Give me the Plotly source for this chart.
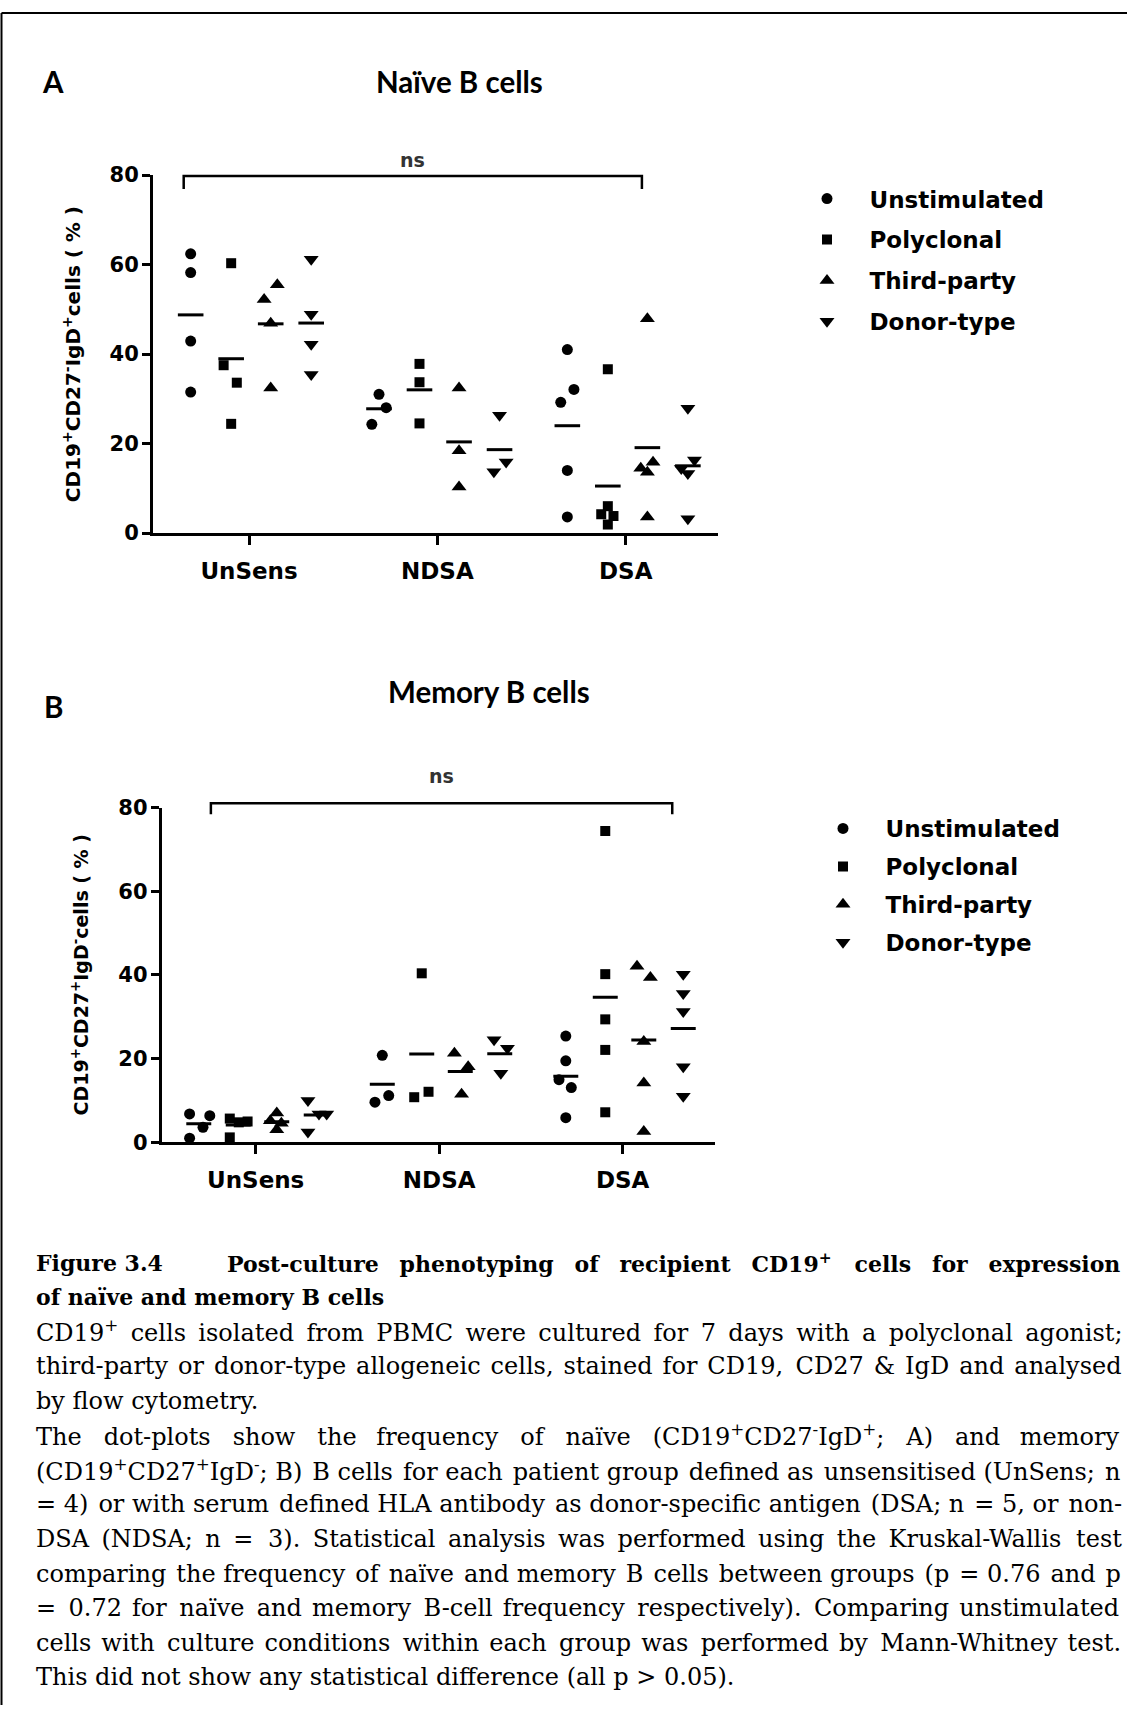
import plotly.graph_objects as go
import numpy as np

# ---------------- data ----------------
categories = ["UnSens", "NDSA", "DSA"]
series_names = ["Unstimulated", "Polyclonal", "Third-party", "Donor-type"]
y_ticks = [0, 20, 40, 60, 80]

# Panel A: naive B cells (% CD19+CD27-IgD+), per group UnSens / NDSA / DSA
naive_unstimulated = [[62.4, 58.2, 42.9, 31.5], [31.0, 28.0, 24.3], [41.0, 32.1, 29.2, 14.0, 3.6]]
naive_polyclonal = [[60.3, 37.5, 33.6, 24.4], [37.8, 33.7, 24.5], [36.6, 6.0, 4.2, 3.8, 1.9]]
naive_third_party = [[55.5, 52.2, 46.9, 32.4], [32.4, 18.4, 10.3], [47.9, 15.8, 14.5, 13.6, 3.6]]
naive_donor_type = [[61.2, 48.9, 42.2, 35.4], [26.3, 15.9, 13.7], [27.9, 16.3, 14.4, 13.3, 3.2]]

# Panel B: memory B cells (% CD19+CD27+IgD-)
memory_unstimulated = [[6.8, 6.4, 3.6, 1.0], [20.8, 11.2, 9.6], [25.4, 19.5, 15.0, 13.1, 5.9]]
memory_polyclonal = [[5.7, 5.0, 4.8, 1.2], [40.4, 12.1, 10.8], [74.4, 40.2, 29.4, 22.1, 7.2]]
memory_third_party = [[7.0, 5.2, 4.6, 3.0], [21.3, 18.1, 11.5], [42.1, 39.4, 24.1, 14.2, 2.6]]
memory_donor_type = [[10.0, 6.8, 6.8, 2.5], [24.5, 22.5, 16.5], [40.2, 35.6, 31.3, 18.1, 11.0]]

# ---------------- layout helpers (positions / styles) ----------------
W, H = 1127, 1717
series_offset = [-0.31, -0.095, 0.115, 0.33]
symbols = ["circle", "square", "triangle-up", "triangle-down"]
sizes = [11, 10, 13, 13]
mean_half = 0.068

# horizontal scatter spread (category units) to avoid overlapping points
naive_spread = [
    [[0, 0, 0, 0], [0, 0.038, -0.038], [0, 0.035, -0.035, 0, 0]],
    [[0, -0.04, 0.03, 0], [0, 0, 0], [0, 0, -0.035, 0.03, 0]],
    [[0.035, -0.035, 0, 0], [0, 0, 0], [0, 0.03, -0.035, 0, 0]],
    [[0, 0, 0, 0], [0, 0.035, -0.03], [0, 0.035, -0.035, 0, 0]],
]
memory_spread = [
    [[-0.05, 0.06, 0.023, -0.05], [0, 0.035, -0.04], [0, 0, -0.037, 0.03, 0]],
    [[-0.046, 0.051, 0.003, -0.046], [0, 0.037, -0.041], [0, 0, 0, 0, 0]],
    [[0, -0.035, 0.025, 0], [-0.032, 0.043, 0.007], [-0.037, 0.036, 0, 0, 0]],
    [[-0.045, 0.015, 0.057, -0.045], [-0.031, 0.042, 0.006], [0, 0, 0, 0, 0]],
]


def px(x):
    return x / W


def ly(y):
    # vertical placement calibration for the page capture
    return (y - 8.9) / 0.9888


def py(y):
    return 1 - ly(y) / H


SANS = "DejaVu Sans"
TITLE_FONT = "Lato"
SERIF = "DejaVu Serif"

fig = go.Figure()

panels = [
    dict(data=[naive_unstimulated, naive_polyclonal, naive_third_party, naive_donor_type],
         spread=naive_spread, xa="x", ya="y", legend="legend"),
    dict(data=[memory_unstimulated, memory_polyclonal, memory_third_party, memory_donor_type],
         spread=memory_spread, xa="x2", ya="y2", legend="legend2"),
]

for pi, p in enumerate(panels):
    mx, my = [], []
    for si, name in enumerate(series_names):
        xs, ys = [], []
        for ci in range(len(categories)):
            vals = p["data"][si][ci]
            for k, v in enumerate(vals):
                xs.append(ci + series_offset[si] + p["spread"][si][ci][k])
                ys.append(v)
            m = float(np.mean(vals))
            c = ci + series_offset[si]
            mx += [c - mean_half, c + mean_half, None]
            my += [m, m, None]
        fig.add_trace(go.Scatter(
            x=xs, y=ys, mode="markers", name=name,
            marker=dict(symbol=symbols[si], size=sizes[si], color="black", line=dict(width=0)),
            xaxis=p["xa"], yaxis=p["ya"], legend=p["legend"],
            legendgroup=f"{p['legend']}_{si}", cliponaxis=False, showlegend=True,
        ))
    fig.add_trace(go.Scatter(
        x=mx, y=my, mode="lines", line=dict(color="black", width=3),
        xaxis=p["xa"], yaxis=p["ya"], showlegend=False, hoverinfo="skip", cliponaxis=False,
    ))

axis_common = dict(showline=True, linecolor="black", linewidth=3, ticks="outside",
                   tickcolor="black", tickwidth=3, showgrid=False, zeroline=False)
xfont = dict(family=SANS, size=23, color="black", weight="bold")
yfont = dict(family=SANS, size=21, color="black", weight="bold")
legfont = dict(family=SANS, size=23, color="black", weight="bold")

fig.update_layout(
    width=W, height=H, margin=dict(l=0, r=0, t=0, b=0),
    paper_bgcolor="white", plot_bgcolor="white",
    xaxis=dict(domain=[px(153), px(718)], range=[-0.51, 2.49], tickvals=[0, 1, 2],
               ticktext=categories, ticklen=9, tickfont=xfont, ticklabelstandoff=6,
               anchor="y", **axis_common),
    yaxis=dict(domain=[py(531.4), py(172.4)], range=[0, 80], tickvals=y_ticks, ticklen=8,
               tickfont=yfont, ticklabelstandoff=-1, anchor="x", **axis_common),
    xaxis2=dict(domain=[px(161.7), px(715)], range=[-0.512, 2.503], tickvals=[0, 1, 2],
                ticktext=categories, ticklen=9, tickfont=xfont, ticklabelstandoff=6,
                anchor="y2", **axis_common),
    yaxis2=dict(domain=[py(1142.5), py(806.7)], range=[0, 80], tickvals=y_ticks, ticklen=8,
                tickfont=yfont, ticklabelstandoff=-1, anchor="x2", **axis_common),
    legend=dict(x=px(784.5), y=1 - 167.5 / H, xanchor="left", yanchor="top", font=legfont,
                tracegroupgap=8, itemwidth=75, bgcolor="rgba(0,0,0,0)"),
    legend2=dict(x=px(800.5), y=1 - 806.3 / H, xanchor="left", yanchor="top", font=legfont,
                 tracegroupgap=5, itemwidth=75, bgcolor="rgba(0,0,0,0)"),
    showlegend=True,
)

shapes = []
# significance brackets
shapes.append(dict(type="path", xref="x", yref="paper",
                   path=f"M -0.347,{py(186.3)} L -0.347,{py(173.3)} L 2.086,{py(173.3)} L 2.086,{py(186.3)}",
                   line=dict(color="black", width=2.5)))
shapes.append(dict(type="path", xref="x2", yref="paper",
                   path=f"M -0.244,{py(813.3)} L -0.244,{py(802.3)} L 2.27,{py(802.3)} L 2.27,{py(813.3)}",
                   line=dict(color="black", width=2.5)))
# page frame (left and top edges)
shapes.append(dict(type="line", xref="paper", yref="paper", x0=px(1.5), x1=px(1.5), y0=0, y1=1 - 1 / H,
                   line=dict(color="black", width=2)))
shapes.append(dict(type="line", xref="paper", yref="paper", x0=px(1.5), x1=1, y0=1 - 1 / H, y1=1 - 1 / H,
                   line=dict(color="black", width=2)))
fig.update_layout(shapes=shapes)

ann = []


def label(text, x, y, size, family, xanchor="center", angle=0, weight="normal", color="black", yanchor="middle"):
    ann.append(dict(text=text, x=px(x), y=py(y), xref="paper", yref="paper", showarrow=False,
                    xanchor=xanchor, yanchor=yanchor, textangle=angle,
                    font=dict(family=family, size=size, color=color, weight=weight)))


label("A", 53, 78.7, 29.5, TITLE_FONT, weight="bold")
label("Naïve B cells", 459, 78.7, 29.5, TITLE_FONT, weight="bold")
label("B", 53, 705.5, 29.5, TITLE_FONT, weight="bold")
label("Memory B cells", 489, 690, 29.5, TITLE_FONT, weight="bold")

nsfont = dict(family=SANS, size=19, color="#333", weight="bold")
ann.append(dict(text="ns", x=(-0.347 + 2.086) / 2, xref="x", y=py(157.7), yref="paper", showarrow=False,
                xanchor="center", yanchor="middle", font=nsfont))
ann.append(dict(text="ns", x=(-0.244 + 2.27) / 2, xref="x2", y=py(775.4), yref="paper", showarrow=False,
                xanchor="center", yanchor="middle", font=nsfont))

label("CD19<sup>+</sup>CD27<sup>-</sup>IgD<sup>+</sup>cells ( % )", 72, 352, 20, SANS, angle=-90, weight="bold")
label("CD19<sup>+</sup>CD27<sup>+</sup>IgD<sup>-</sup>cells ( % )", 80, 975, 19, SANS, angle=-90, weight="bold")


# caption (justified lines: spread the leftover width evenly over the word gaps with hair spaces)
def justify(text, natural, target, hair_px):
    if natural is None:
        return text
    words = text.split(" ")
    n = len(words) - 1
    extra = target - natural
    out, prev = words[0], 0
    for i in range(n):
        cum = int(round(extra * (i + 1) / n / hair_px))
        out += " " + "\u200a" * (cum - prev) + words[i + 1]
        prev = cum
    return out


label("Figure 3.4", 33.8, 1263, 22, SERIF, xanchor="left", weight="bold")
label(justify("Post-culture phenotyping of recipient CD19<sup>+</sup> cells for expression", 798.5, 892.7, 2.2),
      224.5, 1263, 22, SERIF, xanchor="left", weight="bold")
label("of naïve and memory B cells", 33.8, 1298, 22, SERIF, xanchor="left", weight="bold")

body = [
    "CD19<sup>+</sup> cells isolated from PBMC were cultured for 7 days with a polyclonal agonist;",
    "third-party or donor-type allogeneic cells, stained for CD19, CD27 &amp; IgD and analysed",
    "by flow cytometry.",
    "The dot-plots show the frequency of naïve (CD19<sup>+</sup>CD27<sup>-</sup>IgD<sup>+</sup>; A) and memory",
    "(CD19<sup>+</sup>CD27<sup>+</sup>IgD<sup>-</sup>; B) B cells for each patient group defined as unsensitised (UnSens; n",
    "= 4) or with serum defined HLA antibody as donor-specific antigen (DSA; n = 5, or non-",
    "DSA (NDSA; n = 3). Statistical analysis was performed using the Kruskal-Wallis test",
    "comparing the frequency of naïve and memory B cells between groups (p = 0.76 and p",
    "= 0.72 for naïve and memory B-cell frequency respectively). Comparing unstimulated",
    "cells with culture conditions within each group was performed by Mann-Whitney test.",
    "This did not show any statistical difference (all p &gt; 0.05).",
]
body_natural_px = [1022, 1052.6, None, 943, 1069, 1070, 1022, 1057, 1044, 1045, None]
for i, line in enumerate(body):
    label(justify(line, body_natural_px[i], 1083.3, 2.4), 33.8, 1332 + 34.7 * i, 24, SERIF, xanchor="left")

fig.update_layout(annotations=ann)
fig.write_html("out.html")
